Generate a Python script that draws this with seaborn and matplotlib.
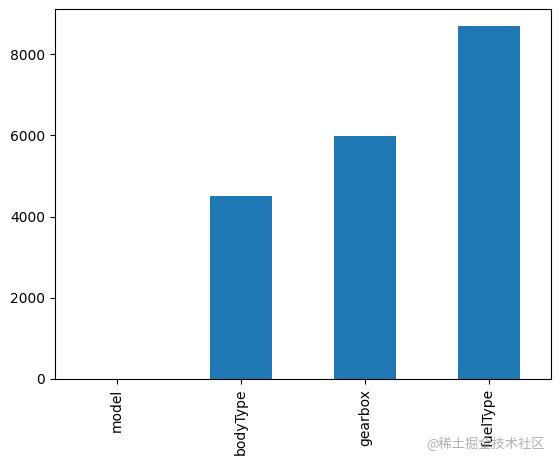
import matplotlib
matplotlib.use("Agg")
import matplotlib.pyplot as plt
import seaborn as sns
import pandas as pd

categories = ["model", "bodyType", "gearbox", "fuelType"]
values = [1, 4506, 5981, 8680]

sns.set_style("ticks")
plt.rcParams['font.family'] = ['DejaVu Sans', 'Noto Sans CJK SC']

df = pd.DataFrame({"col": categories, "count": values})

fig = plt.figure(figsize=(5.6, 4.65), dpi=100)
ax = fig.add_axes([0.098, 0.185, 0.886, 0.796])
sns.barplot(data=df, x="col", y="count", color="#1f77b4", saturation=1, width=0.5,
            linewidth=0, ax=ax)
ax.set_xlabel("")
ax.set_ylabel("")
ax.set_ylim(0, max(values) * 1.05)
ax.set_xlim(-0.5, len(categories) - 0.5)
ax.tick_params(axis="x", rotation=90)
for s in ax.spines.values():
    s.set_visible(True)
    s.set_color("black")
    s.set_linewidth(0.8)
ax.tick_params(colors="black", length=3.5, width=0.8)

fig.text(0.973, 0.045, "@稀土掘金技术社区", ha="right", va="center", fontsize=9.5,
         color="#b0b0b0", family=['Noto Sans CJK SC', 'DejaVu Sans'])

fig.savefig("out.png", dpi=100)
